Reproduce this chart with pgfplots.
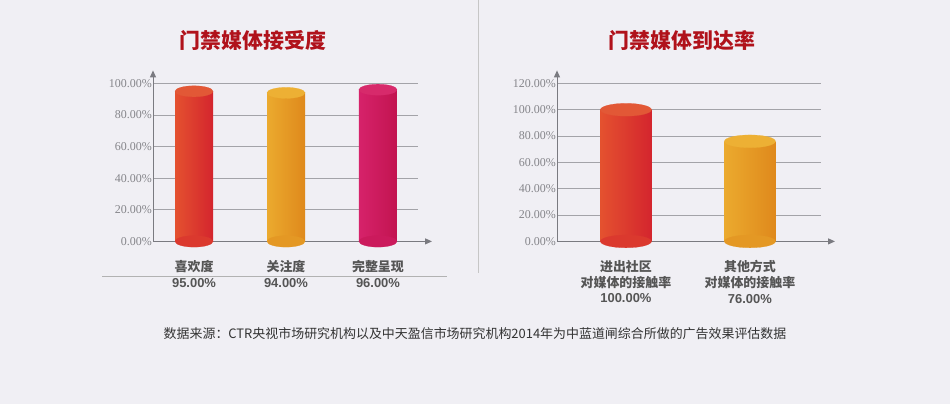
\documentclass[border=0pt]{standalone}
\usepackage{pgfplots}
\pgfplotsset{compat=1.18}
\usetikzlibrary{arrows.meta}
\usepackage{fontspec}
\setmainfont{Liberation Sans}
\newfontfamily\cjk{Noto Sans CJK SC}
\newfontfamily\tickf{Liberation Serif}

\definecolor{bgc}{HTML}{F0EFF4}
\definecolor{axisc}{HTML}{7A7A80}
\definecolor{gridc}{HTML}{A3A3A8}
\definecolor{tickc}{HTML}{85858A}
\definecolor{labc}{HTML}{555555}
\definecolor{titlec}{HTML}{B0121B}
% bar colours: left side, right side, cap
\definecolor{redL}{HTML}{E4512F}
\definecolor{redR}{HTML}{D4252E}
\definecolor{redC}{HTML}{E25836}
\definecolor{orgL}{HTML}{EBAA2E}
\definecolor{orgR}{HTML}{DF891C}
\definecolor{orgC}{HTML}{EDB034}
\definecolor{pnkL}{HTML}{D6226A}
\definecolor{pnkR}{HTML}{C21450}
\definecolor{pnkC}{HTML}{D72A6B}

\pgfplotsset{
  chartbase/.style={
    scale only axis, clip=false,
    axis lines=left,
    axis line style={draw=axisc, line width=1bp, -{Triangle[length=7bp,width=6bp]}},
    x axis line style={shorten >=-14bp},
    y axis line style={shorten >=-13bp},
    ymin=0,
    ymajorgrids, grid style={draw=gridc, line width=0.9bp},
    major tick length=0pt,
    yticklabel style={font=\tickf\fontsize{12}{13}\selectfont, text=tickc, inner xsep=1bp},
    xticklabel style={align=center, font=\bfseries\fontsize{13}{16}\selectfont, text=labc, yshift=-15bp},
  },
  body/.style n args={3}{ybar, bar shift=0pt, bar width=#1, draw=none, left color=#2, right color=#3},
  cap/.style n args={3}{only marks, mark=*, mark size=#1,
    mark options={yscale=#2, fill=#3, draw=#3, line width=0.2bp}},
}

\begin{document}
\begin{tikzpicture}
\fill[bgc] (0,0) rectangle (950bp,404bp);
\draw[gray!45, line width=0.8bp] (478bp,404bp) -- (478bp,131bp);
\draw[gray!60, line width=0.8bp] (102bp,128bp) -- (447bp,128bp);

\node[font=\cjk\bfseries\fontsize{21}{24}\selectfont, text=titlec] at (253bp,364bp) {门禁媒体接受度};
\node[font=\cjk\bfseries\fontsize{21}{24}\selectfont, text=titlec] at (682bp,364bp) {门禁媒体到达率};

% left chart
\begin{axis}[chartbase,
  at={(153bp,163bp)}, anchor=south west,
  width=265bp, height=158bp,
  xmin=-0.446, xmax=2.435, ymax=100,
  ytick={0,20,40,60,80,100},
  yticklabels={0.00\%,20.00\%,40.00\%,60.00\%,80.00\%,100.00\%},
  xtick={0,1,2},
  xticklabels={{\cjk\bfseries 喜欢度}\\95.00\%,{\cjk\bfseries 关注度}\\94.00\%,{\cjk\bfseries 完整呈现}\\96.00\%},
]
\addplot[cap={19bp}{0.3}{redL!45!redR}] coordinates {(0,0)};
\addplot[body={38bp}{redL}{redR}] coordinates {(0,95)};
\addplot[cap={19bp}{0.29}{redC}] coordinates {(0,95)};
\addplot[cap={19bp}{0.3}{orgL!45!orgR}] coordinates {(1,0)};
\addplot[body={38bp}{orgL}{orgR}] coordinates {(1,94)};
\addplot[cap={19bp}{0.29}{orgC}] coordinates {(1,94)};
\addplot[cap={19bp}{0.3}{pnkL!45!pnkR}] coordinates {(2,0)};
\addplot[body={38bp}{pnkL}{pnkR}] coordinates {(2,96)};
\addplot[cap={19bp}{0.29}{pnkC}] coordinates {(2,96)};
\end{axis}

% right chart
\begin{axis}[chartbase,
  at={(557bp,163bp)}, anchor=south west,
  width=264bp, height=158bp,
  xmin=-0.556, xmax=1.573, ymax=120,
  ytick={0,20,40,60,80,100,120},
  yticklabels={0.00\%,20.00\%,40.00\%,60.00\%,80.00\%,100.00\%,120.00\%},
  xtick={0,1},
  xticklabels={{\cjk\bfseries 进出社区}\\{\cjk\bfseries 对媒体的接触率}\\100.00\%,{\cjk\bfseries 其他方式}\\{\cjk\bfseries 对媒体的接触率}\\76.00\%},
]
\addplot[cap={25.5bp}{0.25}{redL!45!redR}] coordinates {(0,0)};
\addplot[body={51bp}{redL}{redR}] coordinates {(0,100)};
\addplot[cap={25.5bp}{0.25}{redC}] coordinates {(0,100)};
\addplot[cap={25.5bp}{0.25}{orgL!45!orgR}] coordinates {(1,0)};
\addplot[body={51bp}{orgL}{orgR}] coordinates {(1,76)};
\addplot[cap={25.5bp}{0.25}{orgC}] coordinates {(1,76)};
\end{axis}

\node[font=\cjk\fontsize{13}{15}\selectfont, text=black!80] at (475bp,71bp) {数据来源：CTR央视市场研究机构以及中天盈信市场研究机构2014年为中蓝道闸综合所做的广告效果评估数据};
\end{tikzpicture}
\end{document}
